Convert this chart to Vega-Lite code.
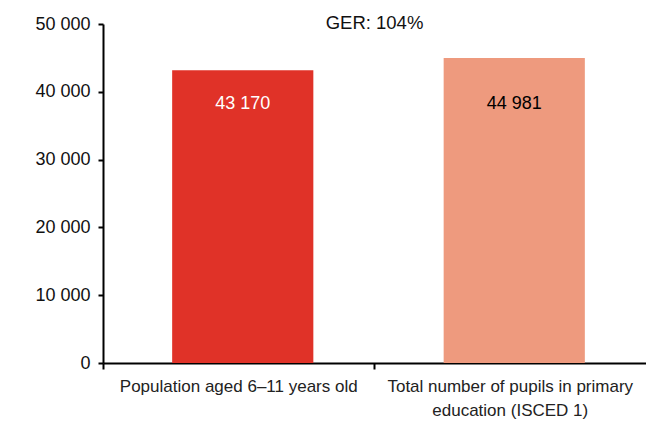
{
  "$schema": "https://vega.github.io/schema/vega-lite/v6.json",
  "width": 543,
  "height": 339,
  "autosize": {"type": "none"},
  "padding": {"left": 103, "top": 24, "right": 0, "bottom": 61},
  "background": "white",
  "config": {"view": {"stroke": null}, "font": "Liberation Sans"},
  "title": {"text": "GER: 104%", "fontSize": 18.5, "fontWeight": "normal", "color": "#111", "offset": -26, "anchor": "middle", "baseline": "middle"},
  "data": {"values": [
    {"category": "Population aged 6-11 years old", "value": 43170, "label": "43 170"},
    {"category": "Total number of pupils in primary education (ISCED 1)", "value": 44981, "label": "44 981"}
  ]},
  "encoding": {
    "x": {"field": "category", "type": "nominal", "sort": null,
      "scale": {"paddingInner": 0, "paddingOuter": 0},
      "axis": {"title": null, "labelAngle": 0, "labelFontSize": 17, "labelColor": "#222", "labelLimit": 400, "labelPadding": 9, "labelLineHeight": 24,
        "labelExpr": "datum.value == 'Population aged 6-11 years old' ? 'Population aged 6–11 years old' : ['Total number of pupils in primary', 'education (ISCED 1)']",
        "bandPosition": 0, "domainColor": "black", "domainWidth": 2, "tickColor": "black", "tickWidth": 2, "tickSize": 6, "labelBaseline": "top"}}
  },
  "layer": [
    {"mark": {"type": "bar", "width": {"band": 0.52}, "xOffset": 4},
     "encoding": {
       "y": {"field": "value", "type": "quantitative", "scale": {"domain": [0, 50000]},
         "axis": {"title": null, "values": [0, 10000, 20000, 30000, 40000, 50000], "grid": false,
           "labelExpr": "replace(format(datum.value, ','), ',', ' ')", "labelFontSize": 18, "labelColor": "#111", "labelPadding": 8,
           "domainColor": "black", "domainWidth": 2, "tickColor": "black", "tickWidth": 2, "tickSize": 5}},
       "color": {"field": "category", "type": "nominal", "sort": null, "scale": {"range": ["#E03228", "#EE9A7E"]}, "legend": null}
     }},
    {"mark": {"type": "text", "fontSize": 18, "baseline": "middle", "xOffset": 4},
     "encoding": {
       "y": {"datum": 38200, "type": "quantitative"},
       "text": {"field": "label"},
       "color": {"condition": {"test": "datum.value < 44000", "value": "white"}, "value": "black"}
     }}
  ]
}
